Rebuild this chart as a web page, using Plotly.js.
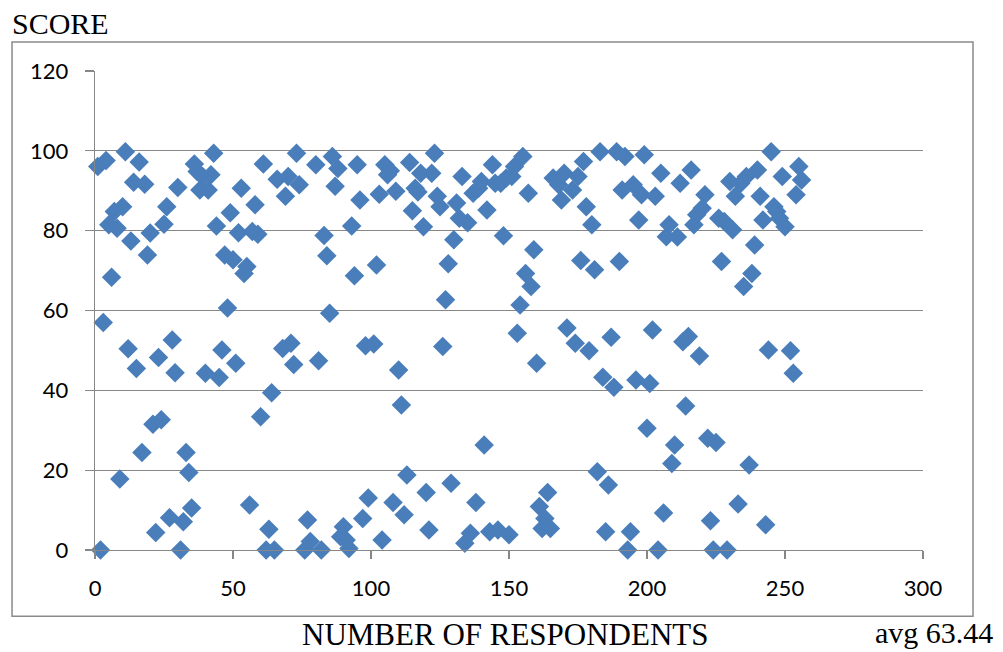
<!DOCTYPE html>
<html>
<head>
<meta charset="utf-8">
<script src="https://cdn.plot.ly/plotly-3.0.1.min.js"></script>
<style>
  html, body { margin: 0; padding: 0; background: #ffffff; }
  #chart { width: 1003px; height: 652px; }
</style>
</head>
<body>
<div id="chart"></div>
<script>
// Respondent number (x) and score (y)
const respondents = [
  1,2,3,4,5,6,7,8,9,10,11,12,13,14,15,16,17,18,19,20,
  21,22,23,24,25,26,27,28,29,30,31,32,33,34,35,36,37,38,39,40,
  41,42,43,44,45,46,47,48,49,50,51,52,53,54,55,56,57,58,59,60,
  61,62,63,64,65,66,68,69,70,71,72,73,74,76,77,78,
  80,81,82,83,84,85,86,87,88,89,90,91,92,93,94,95,96,97,98,99,
  101,102,103,104,105,106,107,108,109,110,111,112,113,114,115,116,117,118,119,120,
  121,122,123,124,125,126,127,128,129,130,131,132,133,134,135,136,137,138,139,140,
  141,142,143,144,145,146,147,148,149,150,151,152,153,154,155,156,157,158,159,160,
  161,162,163,164,165,166,168,169,170,171,
  173,174,175,176,177,178,179,180,181,182,183,184,185,186,187,188,189,190,191,192,
  193,194,195,196,197,198,199,200,201,202,203,204,205,206,207,208,209,210,211,212,
  213,214,215,216,217,218,219,220,221,222,223,224,225,226,227,228,229,230,231,232,
  233,234,235,236,237,238,239,240,241,242,243,244,245,246,247,248,249,250,
  252,253,254,255,256
];
const scores = [
  96.1,0,57,97.6,81.5,68.3,84.8,80.6,17.8,86,99.8,50.4,77.4,92.1,45.5,97.2,24.4,91.6,73.9,79.4,
  31.5,4.4,48.2,32.6,81.6,86,8.1,52.6,44.4,90.8,0,7.1,24.4,19.4,10.5,96.7,94.8,90.2,93.6,44.3,
  90.2,94,99.4,81.2,43.2,50.1,73.9,60.6,84.5,72.7,46.8,79.5,90.6,69.3,71,11.3,79.8,86.5,79.1,33.4,
  96.7,0,5.2,39.4,0,92.9,50.5,88.6,93.6,51.8,46.5,99.4,91.5,0,7.5,2.1,
  96.5,47.4,0,78.8,73.7,59.3,98.6,91.1,95.6,3.3,5.8,2.5,0.4,81.2,68.7,96.5,87.7,7.9,51.2,13,
  51.6,71.4,89.1,2.5,96.5,94,95,11.9,89.9,45.1,36.3,8.8,18.8,97.1,85,90.6,89.7,94.4,81,14.4,
  5,94.4,99.4,88.6,86,51,62.7,71.7,16.7,77.7,86.9,83.1,93.6,1.7,82,4.2,89.4,11.9,90.6,92.3,
  26.3,85.2,4.6,96.5,91.9,5,91.9,78.7,93.2,3.8,93.6,96.1,54.3,61.4,98.6,69.3,89.4,66,75.2,46.8,
  10.9,5.4,7.9,14.4,5.4,93.2,91.5,87.7,94.4,55.6,
  90.2,51.8,93.6,72.5,97.3,86,49.9,81.5,70.2,19.6,99.8,43.3,4.6,16.3,53.3,40.8,99.8,72.3,90.2,98.6,
  0,4.6,91.5,42.6,82.7,89,99,30.5,41.7,55.1,88.6,0,94.4,9.3,78.5,81.5,21.7,26.3,78.4,91.9,
  52.2,36.1,53.5,95.2,81.5,84,48.6,85.6,89,28,7.3,0,26.9,83.1,72.3,82.3,0,92.3,80.2,88.6,
  11.5,91.9,66,93.6,21.3,69.3,76.4,95.2,88.6,82.7,6.3,50.1,99.8,86,84.8,83.1,93.6,81,
  49.9,44.3,89,96.1,92.7
];
const xTicks = [0, 50, 100, 150, 200, 250, 300];
const yTicks = [0, 20, 40, 60, 80, 100, 120];
const yTitle = "SCORE";
const xTitle = "NUMBER OF RESPONDENTS";
const avgNote = "avg 63.44";

const gridGray = "#878787";

const trace = {
  type: "scatter",
  mode: "markers",
  x: respondents,
  y: scores,
  cliponaxis: false,
  marker: { symbol: "diamond", size: 15, color: "#4A7EBB", line: { width: 0 } },
  hoverinfo: "x+y"
};

const layout = {
  width: 1003,
  height: 652,
  margin: { l: 95, r: 80, t: 71, b: 102, pad: 0 },
  paper_bgcolor: "#ffffff",
  plot_bgcolor: "#ffffff",
  showlegend: false,
  font: { family: "Lato, 'Liberation Sans', sans-serif", size: 22, color: "#000000" },
  xaxis: {
    range: [0, 300],
    tickmode: "array",
    tickvals: xTicks,
    ticktext: xTicks.map(String),
    showgrid: false,
    zeroline: false,
    showline: true,
    linecolor: gridGray,
    linewidth: 1.3,
    ticks: "outside",
    ticklen: 8,
    tickwidth: 1.3,
    tickcolor: gridGray,
    ticklabelstandoff: 10,
    tickfont: { family: "Lato, 'Liberation Sans', sans-serif", size: 22, color: "#000000" },
    fixedrange: true
  },
  yaxis: {
    range: [0, 120],
    tickmode: "array",
    tickvals: yTicks,
    ticktext: yTicks.map(String),
    showgrid: true,
    gridcolor: gridGray,
    gridwidth: 1.3,
    zeroline: false,
    showline: true,
    linecolor: gridGray,
    linewidth: 1.3,
    ticks: "outside",
    ticklen: 9,
    tickwidth: 1.3,
    tickcolor: gridGray,
    ticklabelstandoff: 12,
    tickfont: { family: "Lato, 'Liberation Sans', sans-serif", size: 22, color: "#000000" },
    fixedrange: true
  },
  shapes: [
    {
      type: "rect", xref: "paper", yref: "paper", layer: "below",
      x0: -0.1002, x1: 1.0604, y0: -0.1385, y1: 1.0605,
      line: { color: "#8a8a8a", width: 1.5 }, fillcolor: "rgba(0,0,0,0)"
    }
  ],
  annotations: [
    {
      text: yTitle, xref: "paper", yref: "paper", x: -0.1027, y: 1.100,
      xanchor: "left", yanchor: "middle", showarrow: false,
      font: { family: "'Liberation Serif', 'Times New Roman', serif", size: 30, color: "#000000" }
    },
    {
      text: xTitle, xref: "paper", yref: "paper", x: 0.4952, y: -0.176,
      xanchor: "center", yanchor: "middle", showarrow: false,
      font: { family: "'Liberation Serif', 'Times New Roman', serif", size: 31, color: "#000000" }
    },
    {
      text: avgNote, xref: "paper", yref: "paper", x: 0.9396, y: -0.1722,
      xanchor: "left", yanchor: "middle", showarrow: false,
      font: { family: "'Liberation Serif', 'Times New Roman', serif", size: 30, color: "#000000" }
    }
  ]
};

Plotly.newPlot("chart", [trace], layout, { displayModeBar: false, staticPlot: true });
</script>
</body>
</html>
